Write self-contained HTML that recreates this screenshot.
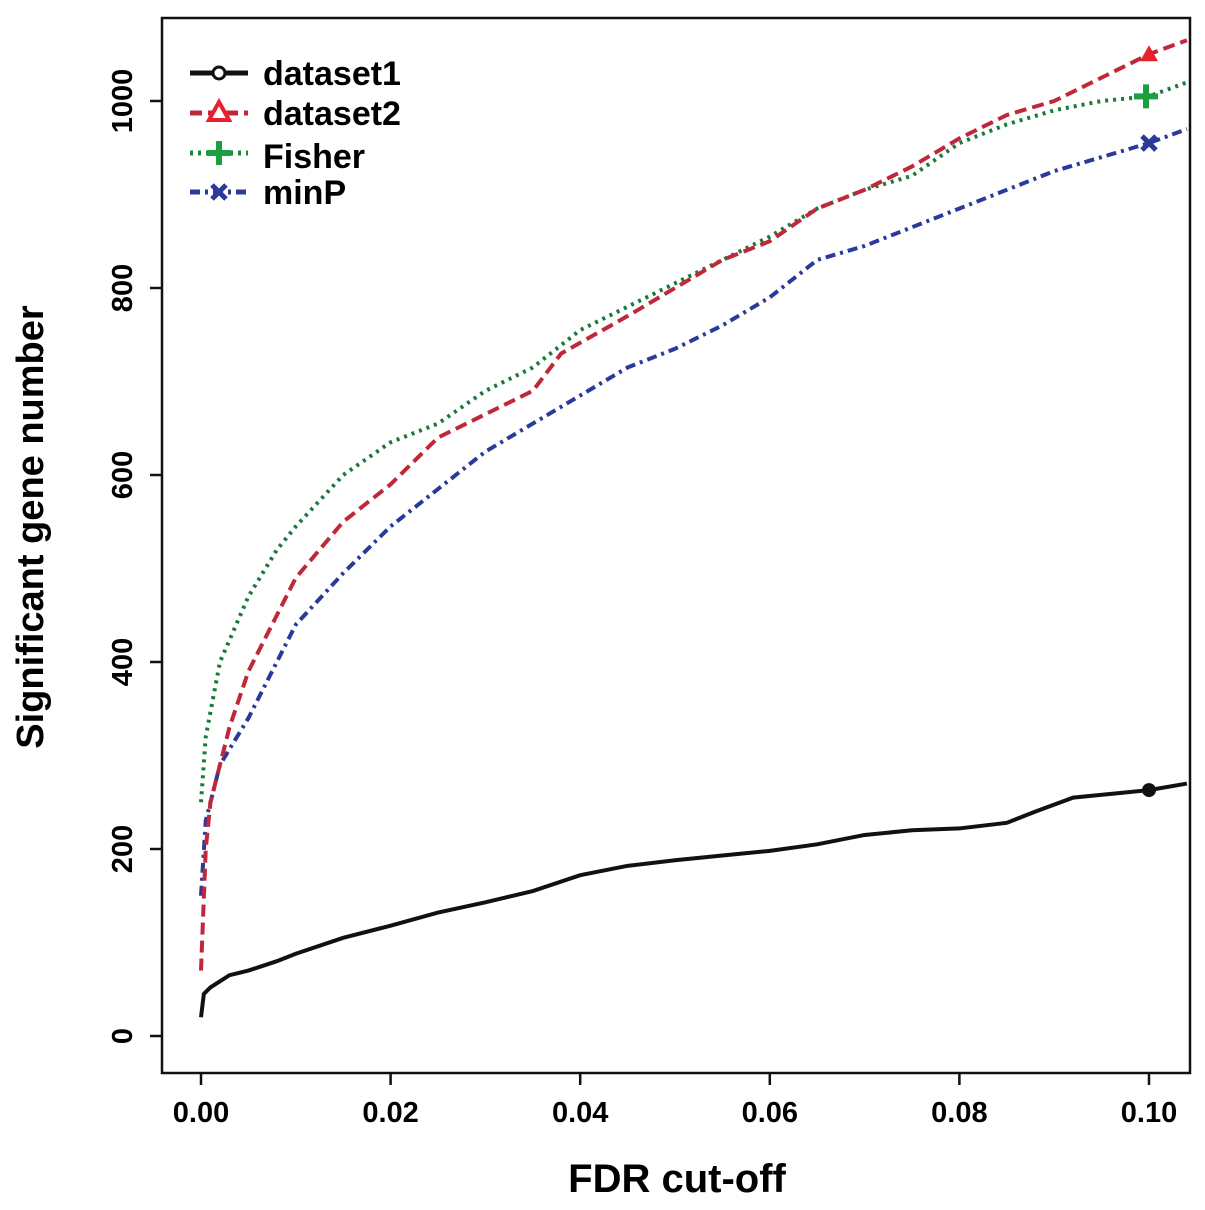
<!DOCTYPE html>
<html><head><meta charset="utf-8"><style>
html,body{margin:0;padding:0;background:#fff}
svg text{font-family:"Liberation Sans",Arial,sans-serif}
</style></head><body>
<svg id="chart" width="1205" height="1205" viewBox="0 0 1205 1205" xmlns="http://www.w3.org/2000/svg">
<rect x="0" y="0" width="1205" height="1205" fill="#fff"/>
<rect x="162" y="18" width="1028" height="1055" fill="none" stroke="#111" stroke-width="2.5"/>
<g id="axes"></g>
<g id="series"></g>
<text x="677" y="1192" font-size="40" font-weight="bold" text-anchor="middle">FDR cut-off</text>
<text transform="translate(43,527) rotate(-90)" font-size="38" font-weight="bold" text-anchor="middle">Significant gene number</text>
<g>
 <g>
  <line x1="190" y1="73" x2="248" y2="73" stroke="#111" stroke-width="5"/>
  <circle cx="219" cy="73" r="6" fill="#fff" stroke="#111" stroke-width="3"/>
  <text x="263" y="85" font-size="34" font-weight="bold">dataset1</text></g>
 <g>
  <line x1="190" y1="113" x2="248" y2="113" stroke="#c0283a" stroke-width="5" stroke-dasharray="12,6"/>
  <polygon points="219,102 229,120 209,120" fill="#fff" stroke="#e8202c" stroke-width="4"/>
  <text x="263" y="125" font-size="34" font-weight="bold">dataset2</text></g>
 <g>
  <line x1="190" y1="153" x2="248" y2="153" stroke="#1a8a3a" stroke-width="5" stroke-dasharray="3,5"/>
  <path d="M219 141V165M207 153H231" stroke="#1aa040" stroke-width="6"/>
  <text x="263" y="168" font-size="34" font-weight="bold">Fisher</text></g>
 <g>
  <line x1="190" y1="192" x2="248" y2="192" stroke="#2a3a9a" stroke-width="5" stroke-dasharray="10,5,3,5"/>
  <path d="M212 185L226 199M226 185L212 199" stroke="#2a3a9a" stroke-width="5"/>
  <text x="263" y="204" font-size="34" font-weight="bold">minP</text></g>
</g>
</svg>
<script>
const xTicks=[0,0.02,0.04,0.06,0.08,0.10];
const xTickLabels=["0.00","0.02","0.04","0.06","0.08","0.10"];
const yTicks=[0,200,400,600,800,1000];
const yTickLabels=["0","200","400","600","800","1000"];
const d1x=[0,0.0003,0.001,0.003,0.005,0.008,0.01,0.015,0.02,0.025,0.03,0.035,0.04,0.045,0.05,0.055,0.06,0.065,0.07,0.075,0.08,0.085,0.088,0.092,0.1,0.104];
const d1y=[20,45,52,65,70,80,88,105,118,132,143,155,172,182,188,193,198,205,215,220,222,228,240,255,263,270];
const d2x=[0,0.0005,0.001,0.003,0.005,0.008,0.01,0.015,0.02,0.025,0.03,0.035,0.038,0.045,0.05,0.055,0.06,0.065,0.07,0.075,0.08,0.085,0.09,0.095,0.1,0.104];
const d2y=[70,200,250,330,390,450,490,550,590,640,665,690,730,770,800,830,850,885,905,930,960,985,1000,1025,1050,1065];
const fx=[0,0.0005,0.002,0.005,0.008,0.01,0.015,0.02,0.025,0.03,0.035,0.04,0.045,0.05,0.055,0.06,0.065,0.07,0.075,0.08,0.085,0.09,0.095,0.1,0.104];
const fy=[250,320,400,470,520,545,600,635,655,690,715,755,780,805,830,855,885,905,920,955,975,990,1000,1005,1020];
const mx=[0,0.0005,0.002,0.005,0.008,0.01,0.015,0.02,0.025,0.03,0.035,0.04,0.045,0.05,0.055,0.06,0.065,0.07,0.075,0.08,0.085,0.09,0.095,0.1,0.104];
const my=[150,230,290,340,400,440,495,545,585,625,655,685,715,735,760,790,830,845,865,885,905,925,940,955,970];
const NS="http://www.w3.org/2000/svg";
const X=v=>201+v*9480, Y=v=>1036-v*0.935;
const axes=document.getElementById('axes'), ser=document.getElementById('series');
function mk(t,a,p){const e=document.createElementNS(NS,t);for(const k in a)e.setAttribute(k,a[k]);p.appendChild(e);return e;}
xTicks.forEach((v,i)=>{
 const l=mk('line',{x1:X(v),x2:X(v),y1:1073,y2:1085,stroke:'#111','stroke-width':2.5},axes);
 
 
 const t=mk('text',{x:X(v),y:1122,'font-size':29,'font-weight':'bold','text-anchor':'middle'},axes);t.textContent=xTickLabels[i];
 
 
});
yTicks.forEach((v,i)=>{
 const l=mk('line',{x1:150,x2:162,y1:Y(v),y2:Y(v),stroke:'#111','stroke-width':2.5},axes);
 
 
 const t=mk('text',{transform:`translate(132,${Y(v)}) rotate(-90)`,'font-size':29,'font-weight':'bold','text-anchor':'middle'},axes);t.textContent=yTickLabels[i];
 
 
});
function line(xs,ys,color,dash,name){
 const p=mk('polyline',{points:xs.map((x,i)=>X(x)+','+Y(ys[i])).join(' '),fill:'none',stroke:color,'stroke-width':4,'stroke-dasharray':dash},ser);
 
 
}
line(mx,my,'#2a3a9a','10,5,3,5','minp-line');
line(fx,fy,'#1a7a3a','3,5','fisher-line');
line(d2x,d2y,'#c0283a','12,6','dataset2-line');
line(d1x,d1y,'#111','','dataset1-line');
function at(xs,ys,v){const i=xs.indexOf(v);return ys[i];}
const m1=mk('circle',{cx:X(0.1),cy:Y(at(d1x,d1y,0.1)),r:7,fill:'#111'},ser);


const ty=Y(at(d2x,d2y,0.1)),tx=X(0.1);
const m2=mk('polygon',{points:`${tx},${ty-9} ${tx+9},${ty+7} ${tx-9},${ty+7}`,fill:'#e8202c'},ser);


const py=Y(at(fx,fy,0.1)),px=X(0.1)-3;
const m3=mk('path',{d:`M${px} ${py-12}V${py+12}M${px-12} ${py}H${px+12}`,stroke:'#1aa040','stroke-width':6},ser);


const qy=Y(at(mx,my,0.1)),qx=X(0.1);
const m4=mk('path',{d:`M${qx-7} ${qy-7}L${qx+7} ${qy+7}M${qx+7} ${qy-7}L${qx-7} ${qy+7}`,stroke:'#2a3a9a','stroke-width':5},ser);


</script>
</body></html>
